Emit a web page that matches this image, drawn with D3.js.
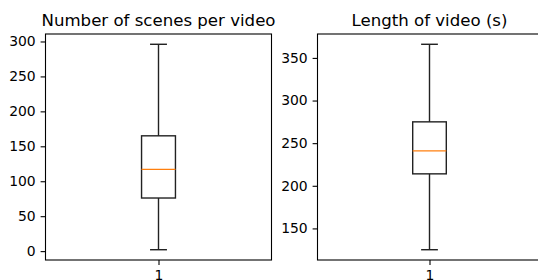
<!DOCTYPE html>
<html>
<head>
<meta charset="utf-8">
<script src="https://cdn.jsdelivr.net/npm/d3@7"></script>
<style>
  body { margin: 0; background: #fff; }
  svg { display: block; font-family: "DejaVu Sans", sans-serif; }
</style>
</head>
<body>
<svg id="chart" width="538" height="280"></svg>
<script>
// box stats: [whisker low, q1, median, q3, whisker high]
const scenesStats = [2, 76, 117, 165, 296];
const lengthStats = [125, 214, 241, 275, 366];
const scenesTicks = [0, 50, 100, 150, 200, 250, 300];
const lengthTicks = [150, 200, 250, 300, 350];
const titles = ["Number of scenes per video", "Length of video (s)"];
const positions = [1];

const svg = d3.select("#chart");
const plotTop = 34, plotBottom = 260;
const panels = [
  { left: 45.5, right: 271.5, stats: scenesStats, ticks: scenesTicks, title: titles[0] },
  { left: 317.5, right: 541.5, stats: lengthStats, ticks: lengthTicks, title: titles[1] }
];

panels.forEach(p => {
  const g = svg.append("g");

  // matplotlib-like autoscale: 5% margin on the data range
  const lo = p.stats[0], hi = p.stats[4];
  const pad = (hi - lo) * 0.05;
  const y = d3.scaleLinear().domain([lo - pad, hi + pad]).range([plotBottom, plotTop]);
  const x = d3.scaleLinear().domain([0.5, 1.5]).range([p.left, p.right]);

  // y axis
  const yAxis = g.append("g")
    .attr("transform", "translate(" + p.left + ",0)")
    .call(d3.axisLeft(y).tickValues(p.ticks).tickSize(4.9).tickPadding(4.9));
  yAxis.select(".domain").remove();
  yAxis.selectAll("line").attr("stroke", "#000").attr("stroke-width", 1.1);
  yAxis.selectAll("text").attr("font-size", 13.9).attr("fill", "#000")
    .attr("font-family", "DejaVu Sans");

  // x axis
  const xAxis = g.append("g")
    .attr("transform", "translate(0," + plotBottom + ")")
    .call(d3.axisBottom(x).tickValues(positions).tickFormat(d3.format("d"))
      .tickSize(4.9).tickPadding(4.9));
  xAxis.select(".domain").remove();
  xAxis.selectAll("line").attr("stroke", "#000").attr("stroke-width", 1.1);
  xAxis.selectAll("text").attr("font-size", 13.9).attr("fill", "#000")
    .attr("font-family", "DejaVu Sans");

  // box
  const s = p.stats;
  const bw = 0.15, cw = 0.075;
  const box = g.append("g").attr("stroke", "#222").attr("stroke-width", 1.4).attr("fill", "none");
  positions.forEach(pos => {
    box.append("line").attr("x1", x(pos)).attr("x2", x(pos)).attr("y1", y(s[0])).attr("y2", y(s[1]));
    box.append("line").attr("x1", x(pos)).attr("x2", x(pos)).attr("y1", y(s[3])).attr("y2", y(s[4]));
    box.append("line").attr("x1", x(pos - cw / 2)).attr("x2", x(pos + cw / 2)).attr("y1", y(s[0])).attr("y2", y(s[0]));
    box.append("line").attr("x1", x(pos - cw / 2)).attr("x2", x(pos + cw / 2)).attr("y1", y(s[4])).attr("y2", y(s[4]));
    box.append("rect")
      .attr("x", x(pos - bw / 2)).attr("y", y(s[3]))
      .attr("width", x(pos + bw / 2) - x(pos - bw / 2))
      .attr("height", y(s[1]) - y(s[3]));
    g.append("line")
      .attr("x1", x(pos - bw / 2)).attr("x2", x(pos + bw / 2))
      .attr("y1", y(s[2])).attr("y2", y(s[2]))
      .attr("stroke", "#ff7f0e").attr("stroke-width", 1.4);
  });

  // frame
  g.append("rect")
    .attr("x", p.left).attr("y", plotTop)
    .attr("width", p.right - p.left).attr("height", plotBottom - plotTop)
    .attr("fill", "none").attr("stroke", "#000").attr("stroke-width", 1.1);

  // title
  g.append("text")
    .attr("x", (p.left + p.right) / 2).attr("y", plotTop - 8.5)
    .attr("text-anchor", "middle")
    .attr("font-size", 16.6)
    .attr("fill", "#000")
    .text(p.title);
});
</script>
</body>
</html>
